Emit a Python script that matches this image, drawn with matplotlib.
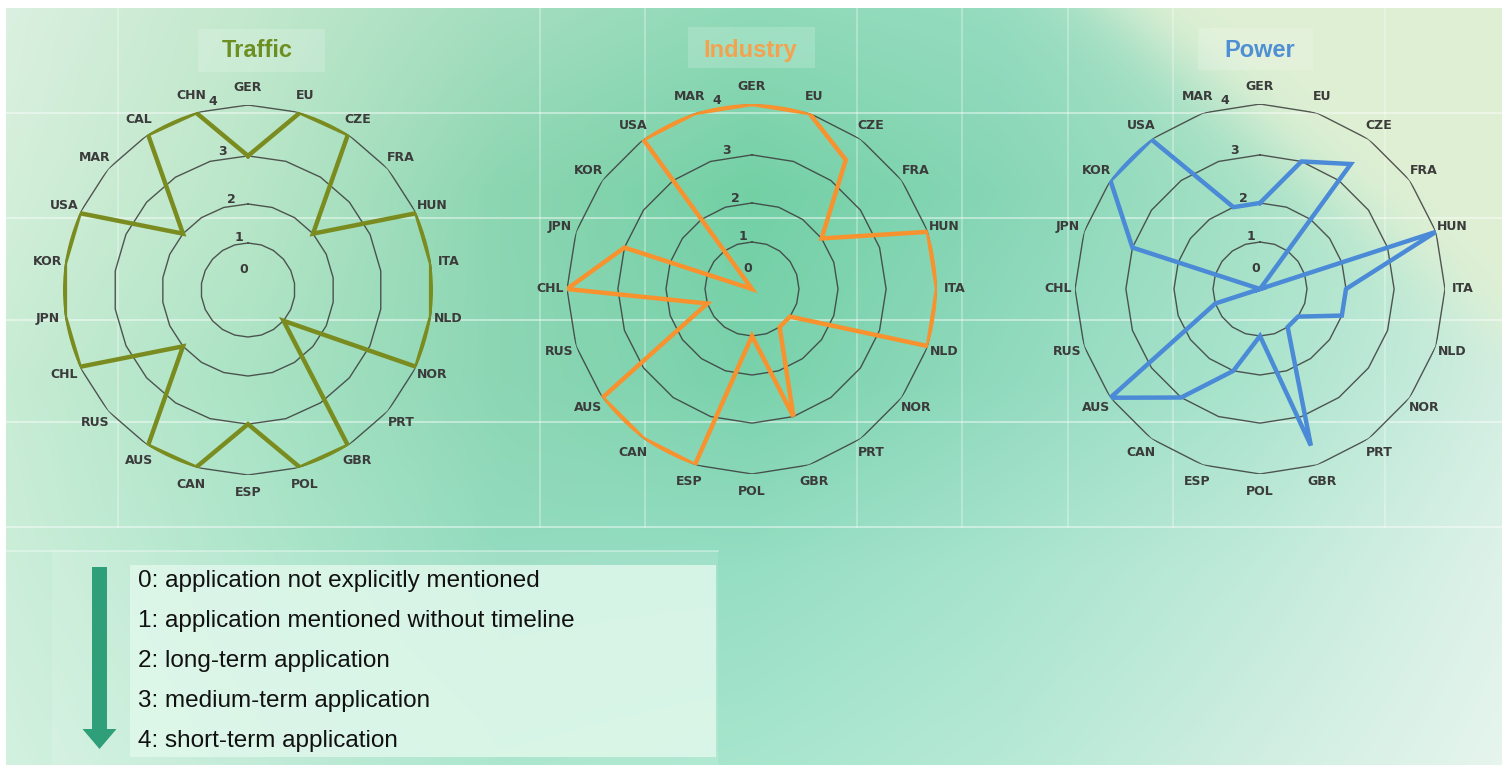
#!/usr/bin/env python3
"""
Three radar charts (Traffic / Industry / Power) with a score legend below.
Writes out.png (1502x765).
"""
import numpy as np
import matplotlib.pyplot as plt
from matplotlib.patches import Rectangle, FancyArrow

W, H = 1502, 765

# ---------- data ----------
LEVELS = [0, 1, 2, 3, 4]
# ring spacing in the source figure is not quite even
RING_POS = [0, 1.016, 1.86, 2.90, 4.0]

traffic_cats = ['GER', 'EU', 'CZE', 'FRA', 'HUN', 'ITA', 'NLD', 'NOR', 'PRT', 'GBR', 'POL',
                'ESP', 'CAN', 'AUS', 'RUS', 'CHL', 'JPN', 'KOR', 'USA', 'MAR', 'CAL', 'CHN']
traffic_vals = [3, 4, 4, 2, 4, 4, 4, 4, 1, 4, 4,
                3, 4, 4, 2, 4, 4, 4, 4, 2, 4, 4]

country_cats = ['GER', 'EU', 'CZE', 'FRA', 'HUN', 'ITA', 'NLD', 'NOR', 'PRT', 'GBR',
                'POL', 'ESP', 'CAN', 'AUS', 'RUS', 'CHL', 'JPN', 'KOR', 'USA', 'MAR']
industry_vals = [4, 4, 3.5, 2, 4, 4, 4, 1, 1, 3,
                 1, 4, 4, 4, 1, 4, 3, 0, 4, 4]
power_vals = [2, 3, 3.4, 0, 4, 2, 2, 1, 1, 3.6,
              1, 2, 3, 4, 1, 0, 3, 4, 4, 2]

legend_lines = ['0: application not explicitly mentioned',
                '1: application mentioned without timeline',
                '2: long-term application',
                '3: medium-term application',
                '4: short-term application']

# ---------- background ----------
bg_x = [0, 250, 500, 750, 1000, 1250, 1502]
bg_y = [0, 190, 380, 570, 765]
bg_cols = np.array([
    [(220, 240, 225), (195, 232, 205), (165, 222, 192), (145, 218, 185), (150, 220, 192), (175, 226, 200), (190, 232, 210)],
    [(212, 239, 218), (185, 230, 200), (140, 214, 178), (115, 208, 165), (135, 214, 182), (165, 225, 198), (195, 235, 215)],
    [(200, 236, 212), (170, 227, 196), (140, 214, 180), (122, 210, 172), (145, 218, 190), (170, 228, 205), (210, 238, 225)],
    [(205, 238, 218), (175, 230, 204), (148, 220, 192), (150, 222, 196), (168, 228, 206), (192, 234, 218), (222, 242, 233)],
    [(212, 241, 224), (188, 234, 212), (162, 227, 200), (168, 230, 206), (182, 233, 214), (208, 238, 225), (230, 245, 238)],
], dtype=float)

xs = np.arange(W)
ys = np.arange(H)
rows = np.stack([np.stack([np.interp(xs, bg_x, bg_cols[i, :, c]) for c in range(3)], axis=-1)
                 for i in range(len(bg_y))])          # (5, W, 3)
t = np.interp(ys, bg_y, np.arange(len(bg_y)))
i0 = np.clip(np.floor(t).astype(int), 0, len(bg_y) - 2)
w = (t - i0)[:, None, None]
img = rows[i0] * (1 - w) + rows[i0 + 1] * w

# pale diagonal band in the top-right corner
X, Y = np.meshgrid(xs, ys)
xline = 1105 + 392 * Y / 330
mask = 1 / (1 + np.exp(-(X - xline) / 30))
mask *= np.clip((470 - Y) / 140, 0, 1)
pale = np.array([224, 240, 212], dtype=float)
img = img * (1 - mask[..., None]) + pale * mask[..., None]
img[:8, :] = 255
img[:, :6] = 255

fig = plt.figure(figsize=(W / 100, H / 100), dpi=100)
bg = fig.add_axes([0, 0, 1, 1])
bg.imshow(img / 255, extent=(0, W, H, 0), aspect='auto', interpolation='bilinear')
bg.set_xlim(0, W)
bg.set_ylim(H, 0)
bg.axis('off')

# faint white table lines behind the charts
for gx in [118, 540, 645, 857, 962, 1068, 1173, 1385]:
    bg.plot([gx, gx], [8, 527], color='white', lw=1.2, alpha=0.35)
for gy in [113, 218, 320, 422, 527]:
    bg.plot([6, W], [gy, gy], color='white', lw=1.4, alpha=0.45)
bg.plot([6, 718], [551, 551], color='white', lw=1.2, alpha=0.4)

# ---------- radar charts ----------
def fwd(v):
    return np.interp(v, LEVELS, RING_POS)

def inv(r):
    return np.interp(r, RING_POS, LEVELS)

R = 185

def radar(cx, cy, cats, vals, color, title, title_x, title_color, box):
    ax = fig.add_axes([(cx - R) / W, (H - cy - R) / H, 2 * R / W, 2 * R / H], projection='polar')
    ax.set_theta_zero_location('N')
    ax.set_theta_direction(-1)
    ax.set_rscale('function', functions=(fwd, inv))
    ax.set_ylim(0, 4)
    ax.grid(False)
    ax.spines['polar'].set_visible(False)
    ax.patch.set_alpha(0)
    ax.set_yticks([])

    n = len(cats)
    theta = np.arange(n) * 2 * np.pi / n
    th = np.append(theta, theta[0])
    for lv in LEVELS[1:]:
        ax.plot(th, [lv] * (n + 1), color='#3a3a3a', lw=1.0, alpha=0.85, zorder=1)
    v = np.append(vals, vals[0])
    ax.plot(th, v, color=color, lw=3.2, zorder=3, solid_joinstyle='miter')

    ax.set_xticks(theta)
    ax.set_xticklabels(cats, fontsize=9, fontweight='bold', color='#3b3b3b')
    ax.tick_params(axis='x', pad=2)

    ang = np.deg2rad(-11)
    for lv in LEVELS:
        if lv == 0:
            ax.text(ang, 0.45, '0', ha='center', va='center', fontsize=9,
                    fontweight='bold', color='#3b3b3b')
        else:
            ax.text(ang, lv, str(lv), ha='center', va='bottom', fontsize=9,
                    fontweight='bold', color='#3b3b3b')

    bx0, by0, bx1, by1 = box
    bg.add_patch(Rectangle((bx0, by0), bx1 - bx0, by1 - by0, facecolor='white',
                           alpha=0.18, lw=0))
    bg.text(title_x, 50, title, ha='center', va='center', fontsize=17, fontweight='bold',
            color=title_color, family='Liberation Sans')
    return ax

radar(248, 290, traffic_cats, traffic_vals, '#7a8c1f', 'Traffic', 257, '#6d8f22', (198, 29, 325, 72))
radar(752, 289, country_cats, industry_vals, '#f7922f', 'Industry', 750, '#f5a24f', (688, 27, 815, 68))
radar(1260, 289, country_cats, power_vals, '#4a8ad6', 'Power', 1260, '#4f8fd3', (1198, 28, 1313, 70))

# ---------- legend ----------
bg.add_patch(Rectangle((52, 551), 666, 214, facecolor='white', alpha=0.12, lw=0))
bg.add_patch(Rectangle((130, 565), 586, 192, facecolor='#e0f8eb', alpha=0.85, lw=0))
bg.add_patch(FancyArrow(99.5, 567, 0, 182, width=15, head_width=34, head_length=20,
                        length_includes_head=True, color='#2e9f78', lw=0))
for i, s in enumerate(legend_lines):
    bg.text(138, 581 + 40 * i, s, ha='left', va='center', fontsize=17.5,
            family='Liberation Sans', color='#111111')

fig.savefig('out.png', dpi=100)
print("Wrote out.png")
